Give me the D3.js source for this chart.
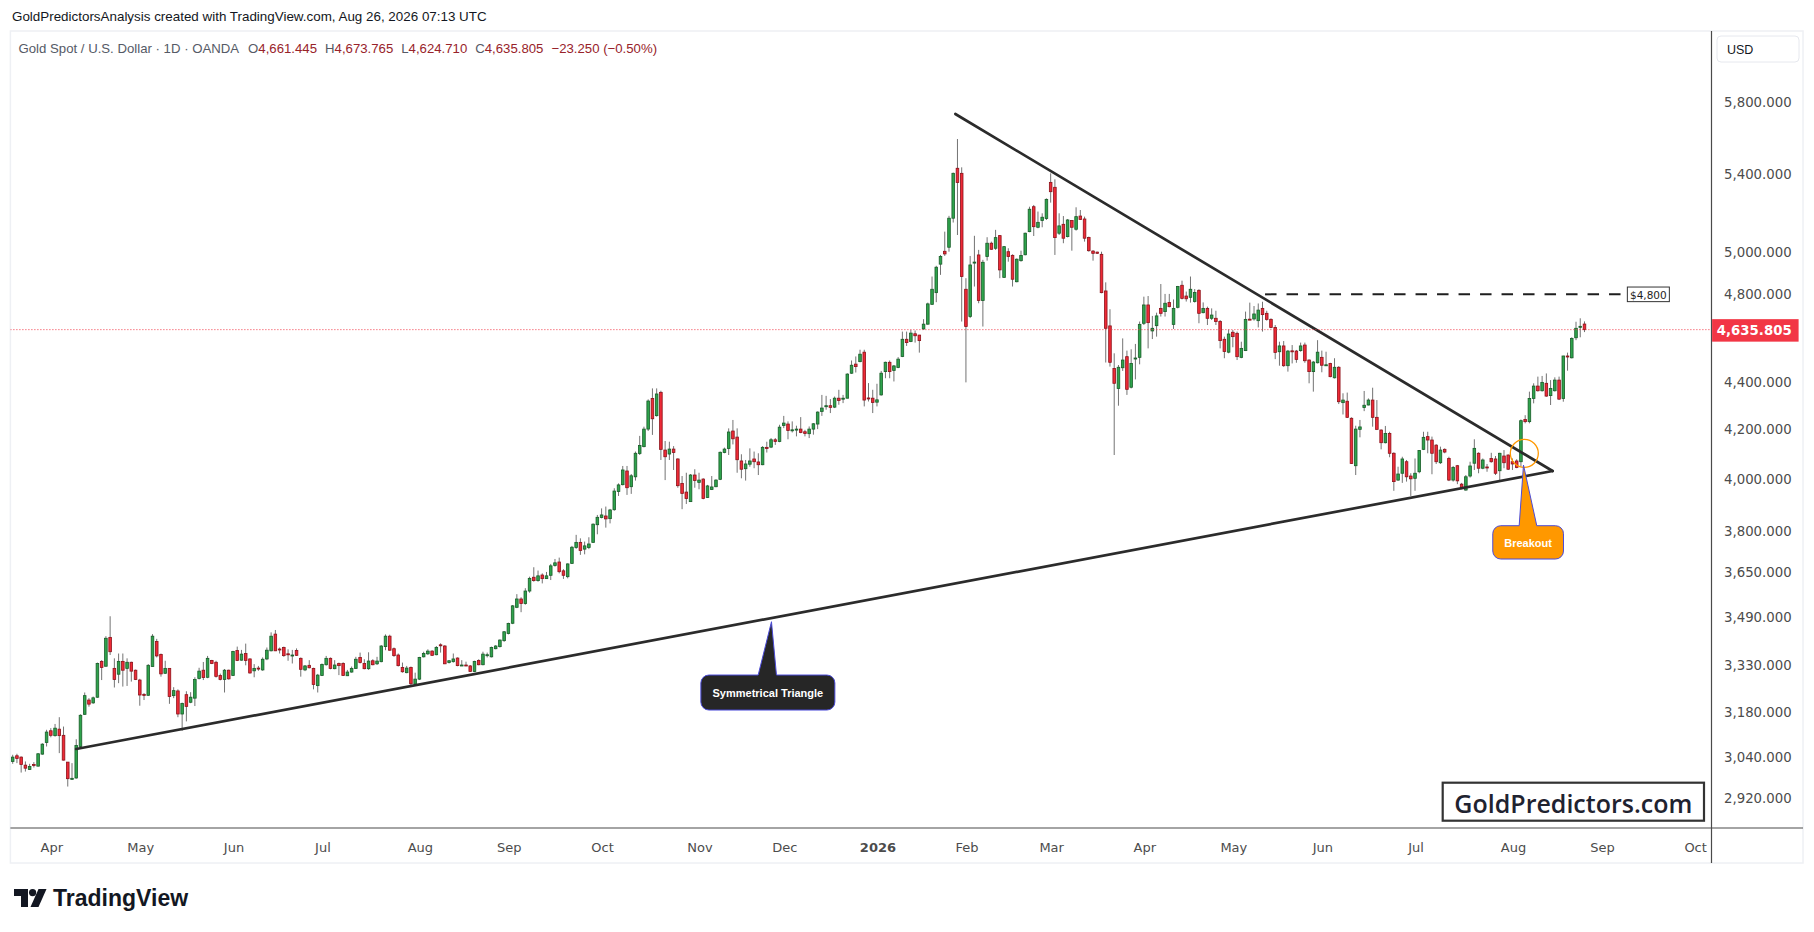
<!DOCTYPE html>
<html><head><meta charset="utf-8">
<script src="https://cdn.jsdelivr.net/npm/d3@7"></script>
<style>body{margin:0;background:#fff;}svg{display:block;}</style>
</head><body><svg id="chart" width="1814" height="932"></svg>
<script>
// ---------------- DATA ----------------
const startDate = "2025-03-19";            // first bar shown
const holidays = ["2025-04-18","2025-12-25","2026-01-01","2026-04-03"];
const futureBars = 30;

const opens = [
3029,3046,3042,3018,3005,3020,3015,3051,3086,
3122,3107,3127,3108,3027,2977,2980,3074,3173,3218,
3209,3227,3343,3327,3423,3320,3301,3343,3320,3340,
3314,3282,3236,3233,3326,3409,3366,3304,3320,3232,
3247,3174,3235,3211,3224,3287,3314,3291,3346,3340,
3297,3284,3314,3297,3379,3347,3369,3351,
3312,3321,3315,3351,3378,3434,3384,3389,3368,3363,3379,3353,
3315,3330,3320,3264,3297,3332,3353,3319,3336,3336,
3296,3308,3320,3356,3336,3319,3345,3335,3342,3392,
3427,3385,3364,3323,3306,3323,3269,3285,3358,3368,
3377,3365,3398,3394,3339,3342,3354,3330,3331,3328,
3310,3346,3332,3364,3358,3385,3392,3412,3436,
3471,3526,3555,3539,3583,3632,3620,3640,3627,3639,3674,
3687,3655,3634,3682,3740,3759,3734,3740,3759,3825,
3852,3858,3848,3882,3952,3979,4033,3971,4010,4103,
4131,4203,4332,4259,4358,4117,4101,4121,4081,3984,
3950,3913,4017,3988,4001,3929,3960,3971,4000,4107,
4123,4195,4170,4073,4042,4060,4081,4069,4058,4128,
4129,4159,4152,4218,4224,4199,4201,4203,4192,4184,
4203,4224,4277,4300,4301,4295,4333,4332,4333,4441,
4481,4492,4534,4334,4333,4316,4347,4448,4489,4453,
4466,4515,4592,4582,4617,4611,4639,4661,4753,4808,
4945,5008,5028,5174,5435,5408,4824,4696,4953,4990,
4771,4982,5048,5023,
5086,4881,5006,4988,4860,4962,4991,5106,5233,5128,
5162,5172,5360,5334,5098,5143,5081,5162,5118,5185,
5170,5077,5009,5004,4993,4816,4653,4462,4375,4465,
4514,4380,4505,4511,4665,4750,4630,4654,4734,4719,
4762,4660,4739,4843,4792,4786,4766,4819,4714,4734,
4688,4688,4673,4592,4534,4624,4619,
4511,4541,4684,4685,4677,4734,4711,4683,4646,4536,
4562,4474,4540,4539,4541,4566,4499,4448,4487,4511,
4476,4484,4421,4467,4314,4320,4248,4054,4202,4293,
4304,4325,4252,4199,4147,4185,4104,
3997,4024,4070,4013,4004,4030,4120,4172,4158,4137,
4066,4120,4083,3997,4054,3981,3958,4013,4064,4104,
4044,4049,4083,4081,4034,4093,4097,4070,4073,4070,
4243,4234,4332,4385,4365,4397,4344,4365,4411,4332,
4517,4509,4599,4648,4661.445];

const highs = [
3049,3052,3044,3029,3022,3027,3054,3084,3125,
3130,3143,3164,3135,3027,3024,3096,3173,3242,3224,
3229,3339,3347,3427,3495,3353,3369,3369,3353,3342,
3316,3286,3240,3334,3434,3418,3369,3345,3320,3259,
3252,3210,3246,3243,3291,3322,3341,3361,3348,3345,
3303,3318,3316,3378,3392,3381,3402,3353,
3334,3328,3356,3389,3440,3448,3389,3392,3383,3381,3386,3356,
3331,3347,3322,3302,3336,3361,3356,3347,3339,3340,
3315,3326,3358,3372,3350,3373,3350,3358,3397,3433,
3432,3389,3369,3339,3328,3326,3306,3358,3375,3383,
3380,3394,3403,3397,3347,3369,3356,3347,3342,3331,
3345,3350,3375,3372,3392,3397,3416,3444,3473,
3534,3572,3561,3593,3634,3668,3656,3646,3651,3680,3698,
3703,3661,3682,3746,3787,3774,3762,3778,3830,3862,
3887,3894,3885,3965,3984,4053,4053,4021,4111,4175,
4213,4328,4375,4375,4365,4154,4151,4133,4084,4013,
4026,4021,4040,4026,4004,3978,4013,4000,4111,4127,
4206,4241,4206,4100,4077,4124,4111,4104,4133,4151,
4166,4166,4221,4258,4235,4235,4217,4253,4200,4214,
4228,4277,4347,4343,4329,4340,4369,4347,4441,4497,
4515,4545,4545,4398,4369,4395,4451,4492,4497,4477,
4512,4627,4627,4635,4632,4612,4684,4761,4885,4937,
4990,5106,5186,5412,5594,5440,4877,4985,5085,5015,
4966,5078,5056,5115,
5089,5034,5023,4993,4973,5011,5101,5233,5242,5208,
5199,5276,5408,5376,5199,5185,5170,5165,5230,5216,
5182,5081,5014,5006,5006,4857,4730,4529,4477,4596,
4541,4547,4571,4673,4789,4792,4699,4714,4849,4802,
4802,4776,4840,4865,4813,4885,4825,4824,4762,4742,
4734,4723,4680,4604,4637,4634,4627,
4581,4719,4761,4745,4757,4765,4723,4688,4657,4581,
4584,4544,4566,4544,4577,4577,4502,4495,4588,4541,
4536,4487,4507,4472,4354,4357,4252,4217,4241,4364,
4332,4378,4325,4202,4216,4192,4108,
4050,4090,4077,4024,4083,4117,4192,4192,4172,4141,
4131,4124,4090,4053,4057,3986,4017,4070,4161,4108,
4083,4061,4106,4093,4106,4117,4099,4083,4080,4243,
4261,4361,4397,4426,4429,4440,4411,4423,4426,4518,
4532,4601,4672,4688,4673.765];

const lows = [
3022,3024,2996,2999,3004,3011,3014,3049,3074,
3102,3104,3054,3032,2955,2975,2978,3072,3171,3197,
3206,3225,3282,3326,3364,3258,3272,3261,3263,3277,
3282,3200,3218,3232,3326,3356,3293,3302,3206,3224,
3164,3122,3151,3208,3199,3284,3282,3288,3334,3290,
3281,3242,3283,3295,3344,3345,3330,3303,
3291,3312,3312,3347,3376,3377,3369,3358,3345,3336,3361,3293,
3311,3320,3252,3242,3295,3329,3317,3317,3298,3295,
3295,3306,3318,3336,3317,3315,3330,3331,3340,3380,
3378,3358,3326,3306,3304,3263,3264,3282,3356,3364,
3361,3363,3372,3334,3336,3339,3327,3328,3328,3309,
3308,3330,3330,3356,3356,3383,3389,3408,3433,
3468,3523,3509,3535,3577,3616,3616,3610,3626,3622,3670,
3646,3626,3628,3680,3735,3713,3715,3734,3758,3789,
3849,3814,3830,3878,3935,3976,3939,3943,3995,4097,
4128,4195,4179,4255,4077,3997,4077,4037,3967,3884,
3904,3912,3967,3961,3922,3927,3958,3969,3997,4104,
4097,4140,4026,4004,3995,4050,4044,4017,4056,4107,
4125,4138,4149,4207,4161,4189,4173,4186,4173,4166,
4180,4203,4258,4284,4270,4291,4305,4312,4332,4438,
4444,4489,4298,4319,4270,4298,4344,4419,4419,4405,
4463,4512,4562,4579,4577,4532,4635,4658,4750,4763,
4893,4985,5006,5152,5089,4673,4401,4689,4837,4758,
4650,4962,5015,5015,
4877,4879,4957,4837,4857,4957,4988,5103,5084,5123,
5128,5165,5254,4990,5089,5048,5077,5011,5111,5165,
5056,5006,4962,4995,4805,4488,4470,4097,4301,4451,
4347,4375,4414,4480,4657,4551,4593,4604,4696,4696,
4739,4639,4734,4776,4766,4761,4761,4665,4711,4657,
4680,4657,4551,4507,4529,4556,4499,
4507,4539,4680,4677,4646,4627,4677,4642,4503,4474,
4469,4448,4484,4487,4536,4487,4397,4361,4484,4445,
4474,4423,4418,4308,4264,4249,4061,4017,4169,4278,
4302,4213,4199,4120,4144,4088,3955,
3994,3986,3991,3935,3955,4024,4117,4104,4020,4061,
4061,4104,3993,3991,3981,3961,3955,4007,4037,4024,
4040,4030,4066,4017,3994,4044,4037,4037,4044,4050,
4227,4227,4311,4361,4361,4339,4304,4361,4325,4318,
4452,4506,4588,4601,4624.710];

const closes = [
3042,3038,3020,3009,3014,3018,3052,3081,3118,
3108,3130,3107,3033,2978,2979,3077,3170,3232,3205,
3225,3336,3323,3420,3375,3284,3343,3314,3340,3311,
3284,3234,3235,3330,3427,3361,3302,3320,3229,3248,
3174,3207,3198,3227,3284,3311,3290,3353,3336,3294,
3284,3314,3286,3376,3346,3367,3346,3305,
3320,3319,3350,3380,3427,3378,3382,3362,3366,3364,3363,3317,
3328,3322,3268,3298,3333,3353,3320,3331,3329,3297,
3308,3320,3350,3339,3319,3344,3332,3344,3394,3427,
3380,3362,3329,3309,3321,3270,3285,3356,3369,3377,
3363,3389,3396,3335,3345,3351,3329,3331,3330,3310,
3343,3332,3367,3365,3389,3394,3414,3442,3470,
3531,3555,3539,3583,3628,3620,3637,3627,3637,3673,3684,
3652,3639,3680,3741,3759,3729,3746,3753,3827,3853,
3862,3847,3881,3954,3978,4037,3967,4014,4104,4136,
4203,4321,4246,4351,4120,4090,4121,4107,3975,3945,
3925,4017,3995,3997,3925,3974,3970,3997,4108,4121,
4191,4163,4078,4040,4061,4073,4070,4058,4128,4123,
4159,4152,4211,4228,4197,4200,4203,4189,4185,4203,
4225,4274,4291,4301,4294,4333,4323,4333,4437,4476,
4470,4525,4325,4333,4315,4326,4441,4489,4448,4473,
4503,4592,4577,4620,4608,4586,4661,4755,4824,4930,
4982,4995,5174,5408,5359,4885,4650,4941,4955,4771,
4954,5048,5018,5076,
4917,5031,4982,4872,4969,4987,5098,5220,5131,5153,
5179,5271,5311,5076,5135,5073,5165,5128,5182,5168,
5073,5011,4998,4998,4808,4642,4489,4397,4467,4499,
4371,4484,4508,4660,4750,4668,4642,4699,4711,4758,
4742,4734,4837,4781,4779,4824,4809,4711,4734,4688,
4703,4673,4586,4537,4616,4604,4514,
4551,4683,4681,4708,4726,4705,4683,4646,4533,4562,
4474,4539,4538,4502,4562,4496,4448,4490,4534,4476,
4478,4426,4467,4318,4325,4252,4063,4203,4212,4303,
4325,4252,4202,4147,4185,4104,3991,
4021,4081,4010,4002,4024,4115,4169,4158,4104,4070,
4117,4109,3997,4047,3994,3965,4010,4053,4124,4044,
4077,4047,4070,4024,4104,4066,4040,4061,4047,4238,
4234,4332,4385,4365,4401,4342,4375,4411,4329,4517,
4514,4596,4642,4651,4635.805];

const timeTickLabels = ["Apr","May","Jun","Jul","Aug","Sep","Oct","Nov","Dec","2026",
                        "Feb","Mar","Apr","May","Jun","Jul","Aug","Sep","Oct"];
const priceTicks = [5800,5400,5000,4800,4400,4200,4000,3800,3650,3490,3330,3180,3040,2920];

const headerText = "GoldPredictorsAnalysis created with TradingView.com, Aug 26, 2026 07:13 UTC";
const legendName = "Gold Spot / U.S. Dollar · 1D · OANDA";
const legendKeys = ["O","H","L","C"];
const legendVals = ["4,661.445","4,673.765","4,624.710","4,635.805"];
const legendChange = "−23.250 (−0.50%)";
const lastPrice = 4635.805;

// drawings (bar number from first bar, price)
const upperLine = [[222.5,5733.6],[363.47,4032.9]];
const lowerLine = [[14.98,3066.4],[363.47,4032.9]];
const resistance = {from:295.6, to:381.0, price:4800, label:"$4,800"};
const breakoutCircle = {bar:356.8, price:4103.8};
const calloutTriangle = {bar:179.1, price:3476.2, text:"Symmetrical Triangle"};
const calloutBreakout = {bar:356.6, price:4056.8, text:"Breakout"};

// ---------------- LAYOUT ----------------
const frame = {l:10.4, t:31, r:1803, b:863};
const plot = {l:10.4, t:31, r:1711.5, b:828};
const svg = d3.select("#chart");
const FONT = "'DejaVu Sans', Verdana, sans-serif";
const UI = "'Liberation Sans', Arial, sans-serif";

function buildDates(n){
  const out = []; const d = new Date(startDate + "T00:00:00Z");
  while (out.length < n){
    const dow = d.getUTCDay(); const iso = d.toISOString().slice(0,10);
    if (dow !== 0 && dow !== 6 && !holidays.includes(iso)) out.push(new Date(d));
    d.setUTCDate(d.getUTCDate() + 1);
  }
  return out;
}
const nData = closes.length;
const dates = buildDates(nData + futureBars);
const bars = d3.range(nData).map(i => ({i, date:dates[i], o:opens[i], h:highs[i], l:lows[i], c:closes[i]}));

const x = d3.scaleLinear().domain([-0.54, 400.98]).range([plot.l, plot.r]);
const y = d3.scaleLog().domain([2836.7, 6222.4]).range([plot.b, plot.t]);

// frame
svg.append("rect").attr("x",frame.l).attr("y",frame.t).attr("width",frame.r-frame.l).attr("height",frame.b-frame.t)
  .attr("fill","#fff").attr("stroke","#eef0f4").attr("stroke-width",1.5);

// header
svg.append("text").attr("x",12).attr("y",21).attr("font-family",UI).attr("font-size",13.4)
  .attr("fill","#131722").text(headerText);
const leg = svg.append("text").attr("x",18.5).attr("y",52.5).attr("font-family",UI).attr("font-size",13.2).attr("fill","#555a66");
leg.append("tspan").text(legendName);
legendKeys.forEach((k,j)=>{
  leg.append("tspan").attr("dx", j===0?9:8).text(k);
  leg.append("tspan").attr("fill","#98232a").text(legendVals[j]);
});
leg.append("tspan").attr("dx",8).attr("fill","#98232a").text(legendChange);

// clip
svg.append("clipPath").attr("id","clipPlot").append("rect")
  .attr("x",plot.l).attr("y",plot.t).attr("width",plot.r-plot.l).attr("height",plot.b-plot.t);
const g = svg.append("g").attr("clip-path","url(#clipPlot)");

// candles
const bodyW = 2.6;
const cg = g.append("g");
cg.selectAll("line.wick").data(bars).join("line").attr("class","wick")
  .attr("x1",d=>x(d.i)).attr("x2",d=>x(d.i)).attr("y1",d=>y(d.h)).attr("y2",d=>y(d.l))
  .attr("stroke","#737373").attr("stroke-width",1);
cg.selectAll("rect.body").data(bars).join("rect").attr("class","body")
  .attr("x",d=>x(d.i)-bodyW/2).attr("width",bodyW)
  .attr("y",d=>y(Math.max(d.o,d.c)))
  .attr("height",d=>Math.max(1, Math.abs(y(d.o)-y(d.c))))
  .attr("fill",d=>d.c>=d.o?"#2ea34c":"#ee2a36")
  .attr("stroke",d=>d.c>=d.o?"#185c28":"#8c1119").attr("stroke-width",0.8);

// triangle lines
const line = d3.line().x(d=>x(d[0])).y(d=>y(d[1]));
[upperLine, lowerLine].forEach(pts=>{
  g.append("path").attr("d",line(pts)).attr("fill","none").attr("stroke","#2b2b2b")
    .attr("stroke-width",2.7).attr("stroke-linecap","round");
});

// last price dotted line
g.append("line").attr("x1",plot.l).attr("x2",plot.r).attr("y1",y(lastPrice)).attr("y2",y(lastPrice))
  .attr("stroke","#f23645").attr("stroke-width",1).attr("stroke-dasharray","1,2");

// resistance dashed line
g.append("line").attr("x1",x(resistance.from)).attr("x2",x(resistance.to))
  .attr("y1",y(resistance.price)).attr("y2",y(resistance.price))
  .attr("stroke","#1e1e1e").attr("stroke-width",2).attr("stroke-dasharray","11.5,10");
const rl = g.append("g").attr("transform",`translate(${x(resistance.to)+0.5},${y(resistance.price)})`);
rl.append("rect").attr("x",0).attr("y",-7.3).attr("width",42).attr("height",14.6)
  .attr("fill","#fff").attr("stroke","#333").attr("stroke-width",1);
rl.append("text").attr("x",21).attr("y",0.5).attr("text-anchor","middle").attr("dominant-baseline","central")
  .attr("font-family",FONT).attr("font-size",10.5).attr("fill","#1e1e1e").text(resistance.label);

// breakout circle
g.append("circle").attr("cx",x(breakoutCircle.bar)).attr("cy",y(breakoutCircle.price)).attr("r",14)
  .attr("fill","none").attr("stroke","#ff9800").attr("stroke-width",1.3);

// callouts
function callout(c, opt){
  const tx = x(c.bar), ty = y(c.price);
  const L = tx + opt.dx, T = ty + opt.dy, R = L + opt.w, B = T + opt.h, r = 8;
  const bl = tx + opt.b0, br = tx + opt.b1;
  const p = `M${L+r},${T} L${bl},${T} L${tx},${ty} L${br},${T} L${R-r},${T} A${r},${r} 0 0 1 ${R},${T+r} `+
            `L${R},${B-r} A${r},${r} 0 0 1 ${R-r},${B} L${L+r},${B} A${r},${r} 0 0 1 ${L},${B-r} `+
            `L${L},${T+r} A${r},${r} 0 0 1 ${L+r},${T} Z`;
  svg.append("path").attr("d",p).attr("fill",opt.fill).attr("stroke","#4b4bd8").attr("stroke-width",1);
  svg.append("text").attr("x",(L+R)/2).attr("y",(T+B)/2+0.5).attr("text-anchor","middle")
    .attr("dominant-baseline","central").attr("font-family",UI).attr("font-weight","bold")
    .attr("font-size",11).attr("fill","#fff").text(c.text);
}
callout(calloutTriangle, {dx:-70.6, dy:53.3, w:134, h:35, b0:-13.3, b1:5, fill:"#262626"});
callout(calloutBreakout, {dx:-30.7, dy:60.7, w:70.7, h:33.3, b0:-4.3, b1:13.3, fill:"#ff9800"});

// watermark
svg.append("rect").attr("x",1442.7).attr("y",782.7).attr("width",261.3).attr("height",38)
  .attr("fill","#fff").attr("stroke","#333").attr("stroke-width",2.2);
svg.append("text").attr("x",1573.3).attr("y",803).attr("text-anchor","middle").attr("dominant-baseline","central")
  .attr("font-family","'Open Sans', sans-serif").attr("font-weight",600).attr("font-size",25)
  .attr("fill","#1f2330").text("GoldPredictors.com");

// axes lines
svg.append("line").attr("x1",plot.r).attr("x2",plot.r).attr("y1",frame.t).attr("y2",frame.b)
  .attr("stroke","#4a4a4a").attr("stroke-width",1.2);
svg.append("line").attr("x1",frame.l).attr("x2",frame.r).attr("y1",plot.b).attr("y2",plot.b)
  .attr("stroke","#4a4a4a").attr("stroke-width",1.2);

// price axis
const fmt = d3.format(",.3f");
svg.append("g").selectAll("text").data(priceTicks).join("text")
  .attr("x",1791.7).attr("y",d=>y(d)).attr("text-anchor","end").attr("dominant-baseline","central")
  .attr("font-family",FONT).attr("font-size",13.3).attr("fill","#4c4c4c").text(d=>fmt(d));
svg.append("rect").attr("x",1717).attr("y",36).attr("width",82).attr("height",26).attr("rx",4)
  .attr("fill","#fff").attr("stroke","#e6e8ee");
svg.append("text").attr("x",1727).attr("y",49.5).attr("dominant-baseline","central")
  .attr("font-family",UI).attr("font-size",12.5).attr("fill","#131722").text("USD");
svg.append("rect").attr("x",plot.r+0.6).attr("y",y(lastPrice)-10.5).attr("width",86.5).attr("height",22.5)
  .attr("fill","#f23645");
svg.append("text").attr("x",1791.7).attr("y",y(lastPrice)+1).attr("text-anchor","end").attr("dominant-baseline","central")
  .attr("font-family",FONT).attr("font-size",13.3).attr("font-weight","bold").attr("fill","#fff").text(fmt(lastPrice));

// time axis
const monthStarts = [];
dates.forEach((d,i)=>{ if(i>0 && d.getUTCMonth()!==dates[i-1].getUTCMonth()) monthStarts.push(i); });
const ticks = monthStarts.slice(0, timeTickLabels.length).map((i,j)=>({i, label:timeTickLabels[j]}));
svg.append("clipPath").attr("id","clipTime").append("rect").attr("x",plot.l).attr("y",plot.b).attr("width",plot.r-plot.l).attr("height",35);
svg.append("g").attr("clip-path","url(#clipTime)").selectAll("text").data(ticks).join("text")
  .attr("x",d=>x(d.i)+1).attr("y",847).attr("text-anchor","middle").attr("dominant-baseline","central")
  .attr("font-family",FONT).attr("font-size",13).attr("font-weight",d=>/^\d+$/.test(d.label)?"bold":"normal")
  .attr("fill","#4c4c4c").text(d=>d.label);

// TradingView logo
const logo = svg.append("g").attr("fill","#131722");
logo.append("path").attr("d","M14,889 L28,889 L28,907 L21,907 L21,896 L14,896 Z");
logo.append("circle").attr("cx",32.6).attr("cy",892.6).attr("r",3.6);
logo.append("path").attr("d","M38.5,889 L46.5,889 L38.5,907 L30.5,907 Z");
svg.append("text").attr("x",53).attr("y",906).attr("font-family",UI).attr("font-weight","bold")
  .attr("font-size",23).attr("fill","#131722").text("TradingView");
</script></body></html>
